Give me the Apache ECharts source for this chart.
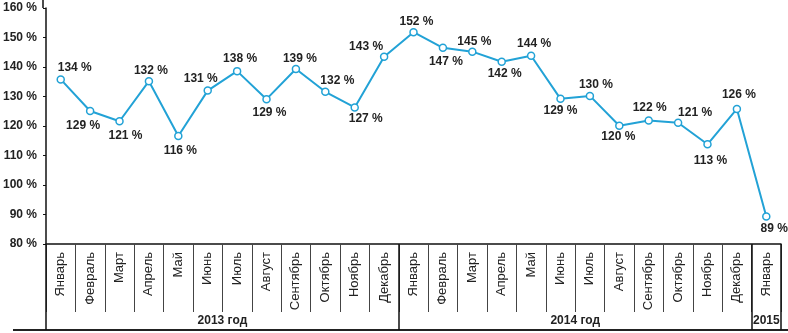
<!DOCTYPE html>
<html>
<head>
<meta charset="utf-8">
<script src="https://cdn.jsdelivr.net/npm/echarts@6/dist/echarts.min.js"></script>
<style>html,body{margin:0;padding:0;background:#fff}#plot{width:788px;height:333px}</style>
</head>
<body>
<div id="plot"></div>
<script>
// месяцы по оси X
var months = ['Январь','Февраль','Март','Апрель','Май','Июнь','Июль','Август','Сентябрь','Октябрь','Ноябрь','Декабрь',
  'Январь','Февраль','Март','Апрель','Май','Июнь','Июль','Август','Сентябрь','Октябрь','Ноябрь','Декабрь','Январь'];
var years = ['2013 год', '2014 год', '2015'];
var yearSpans = [12, 12, 1];
// положение точек, %
var values = [135.8, 125.1, 121.6, 135.2, 116.6, 132.0, 138.6, 129.1, 139.3, 131.6, 126.3, 143.5,
  151.8, 146.5, 145.2, 141.8, 143.8, 129.2, 130.2, 120.1, 121.9, 121.1, 113.8, 125.8, 89.3];
// подписи точек, %
var labels = [134, 129, 121, 132, 116, 131, 138, 129, 139, 132, 127, 143,
  152, 147, 145, 142, 144, 129, 130, 120, 122, 121, 113, 126, 89];
var yTicks = [80, 90, 100, 110, 120, 130, 140, 150, 160];

// смещения подписей относительно точек
var labelOffsets = [[14,-12],[-7,15],[6,14],[2,-10],[2,15],[-7,-12],[3,-12],[3,14],[4,-10],[12,-11],[11,11],[-18,-10],
  [3,-11],[3,14],[2,-10],[3,12],[3,-12],[0,12],[6,-11],[-1,11],[1,-13],[17,-10],[3,16],[2,-14],[8,12]];

// начала и центры годов
var yearStarts = [], yearCenters = [];
var acc = 0;
yearSpans.forEach(function (s) {
  yearStarts.push(acc);
  yearCenters.push(acc + s / 2);
  acc += s;
});

var myChart = echarts.init(document.getElementById('plot'));

var seriesData = values.map(function (v, i) {
  return {
    value: v,
    label: {
      formatter: labels[i] + ' %',
      offset: labelOffsets[i]
    }
  };
});

var font = 'Liberation Sans, Arial, sans-serif';

var option = {
  animation: false,
  grid: { left: 43, right: 7, top: 8, bottom: 89 },
  xAxis: [{
    type: 'category',
    data: months,
    boundaryGap: true,
    axisLine: { show: true, lineStyle: { color: '#111', width: 1.5 } },
    axisTick: { show: true, interval: 0, alignWithLabel: false, length: 68, lineStyle: { color: '#444', width: 1 } },
    axisLabel: {
      interval: 0, rotate: 90, margin: 8,
      fontFamily: font, fontSize: 13, color: '#222'
    }
  }, {
    type: 'category',
    data: months,
    boundaryGap: true,
    position: 'bottom',
    axisLine: { show: false },
    axisTick: {
      show: true,
      interval: function (index) { return yearStarts.indexOf(index) >= 0; },
      length: 86, lineStyle: { color: '#111', width: 1.5 }
    },
    axisLabel: { show: false }
  }, {
    type: 'value',
    min: 0, max: acc, interval: 0.5,
    position: 'bottom',
    axisLine: { show: false },
    axisTick: { show: false },
    splitLine: { show: false },
    axisLabel: {
      margin: 71,
      fontFamily: font, fontSize: 12, fontWeight: 'bold', color: '#222',
      formatter: function (v) {
        var k = yearCenters.findIndex(function (c) { return Math.abs(c - v) < 1e-6; });
        return k >= 0 ? years[k] : '';
      }
    }
  }],
  yAxis: {
    type: 'value',
    min: yTicks[0], max: yTicks[yTicks.length - 1], interval: 10,
    axisLine: { show: true, lineStyle: { color: '#111', width: 1.5 } },
    axisTick: { show: true, length: 3, lineStyle: { color: '#111' } },
    splitLine: { show: false },
    axisLabel: {
      margin: 9,
      fontFamily: font, fontSize: 12, fontWeight: 'bold', color: '#222',
      formatter: function (v) { return v + ' %'; }
    }
  },
  graphic: [
    { type: 'line', shape: { x1: 13, y1: 330, x2: 788, y2: 330 }, style: { stroke: '#222', lineWidth: 2 } },
    { type: 'line', shape: { x1: 43, y1: 0, x2: 43, y2: 8 }, style: { stroke: '#111', lineWidth: 1.5 } }
  ],
  series: [{
    type: 'line',
    xAxisIndex: 0,
    data: seriesData,
    symbol: 'circle',
    symbolSize: 7,
    lineStyle: { color: '#22a2d6', width: 2 },
    itemStyle: { color: '#fff', borderColor: '#22a2d6', borderWidth: 1.5 },
    label: {
      show: true,
      position: 'inside',
      fontFamily: font, fontSize: 12, fontWeight: 'bold', color: '#222'
    }
  }]
};

myChart.setOption(option);
</script>
</body>
</html>
